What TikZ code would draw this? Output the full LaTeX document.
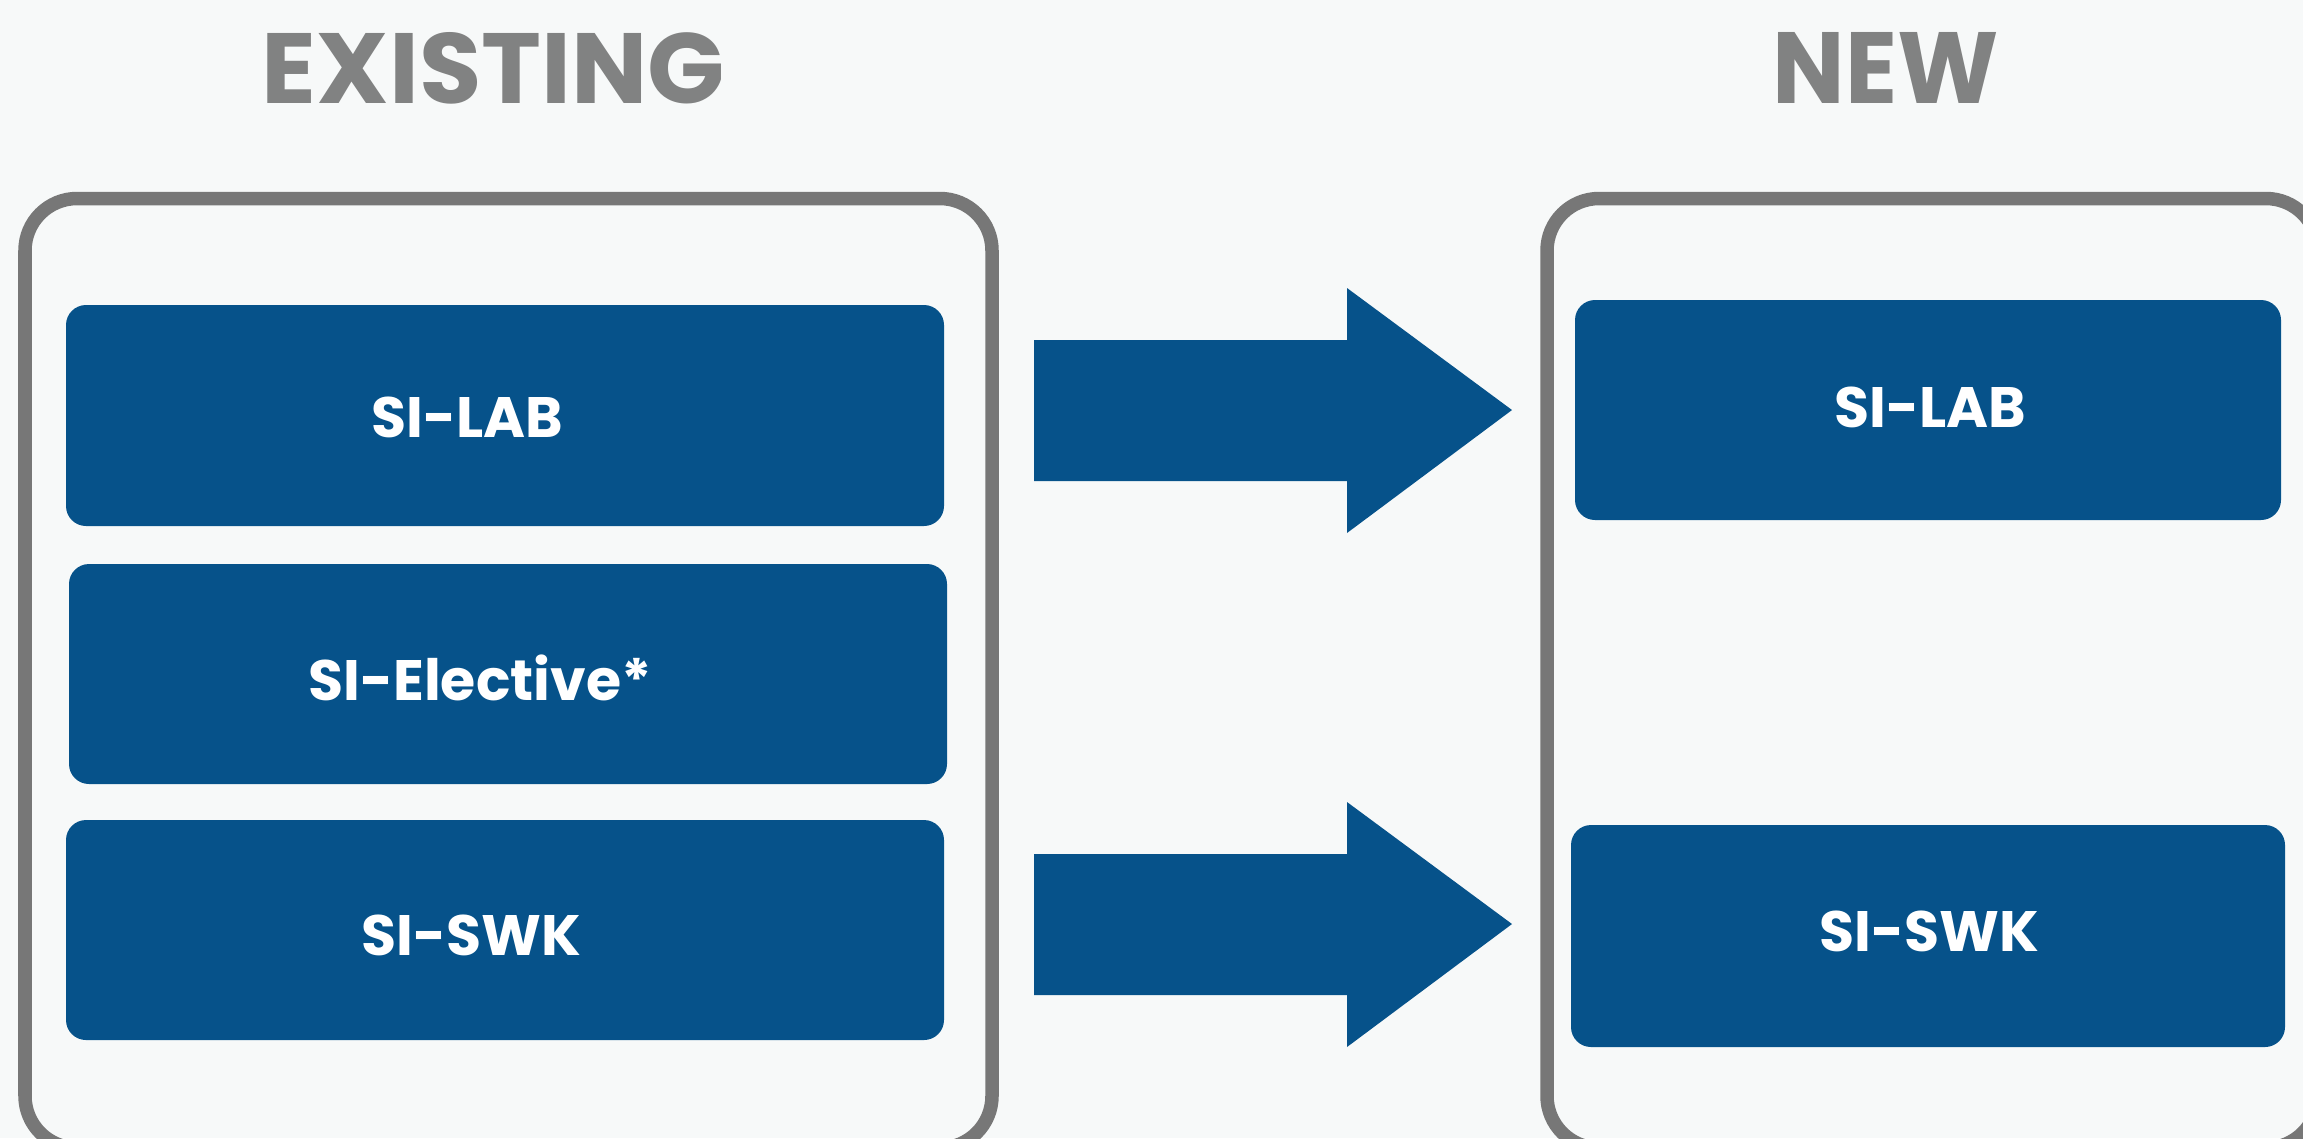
\documentclass[tikz,border=0pt]{standalone}
\usepackage{fontspec}
\setmainfont{Poppins}
\usepackage{graphicx}
\definecolor{bg}{HTML}{F7F9F9}
\definecolor{siblue}{HTML}{06528A}
\definecolor{frame}{HTML}{777777}
\definecolor{ttl}{HTML}{818282}
\tikzset{
  outerbox/.style={draw=frame, line width=0.135cm, rounded corners=0.52cm},
  bluebox/.style={fill=siblue, rounded corners=0.2cm},
  lbl/.style={text=white, inner sep=0pt, anchor=base, font=\fontsize{16.2}{19}\selectfont\bfseries},
  ttlnode/.style={text=ttl, inner sep=0pt, anchor=base west, font=\bfseries},
  bigarrow/.style={fill=siblue}
}
\begin{document}
\begin{tikzpicture}[x=0.01cm,y=-0.01cm]
\useasboundingbox (0,0) rectangle (2303,1138);
\clip (0,0) rectangle (2303,1138);
\fill[bg] (0,0) rectangle (2303,1138);
% titles
\node[ttlnode] (texist) at (261,103) {\resizebox{4.63cm}{0.71cm}{EXISTING}};
\node[ttlnode] (tnew) at (1772,103) {\resizebox{2.26cm}{0.71cm}{NEW}};
% outer frames
\draw[outerbox] (25,198.5) rectangle (992,1148);
\draw[outerbox] (1547,198.5) rectangle (2318,1148);
% blue boxes left
\path[bluebox] (66,305) rectangle (944,526);
\path[bluebox] (69,564) rectangle (947,784);
\path[bluebox] (66,820) rectangle (944,1040);
% blue boxes right
\path[bluebox] (1575,300) rectangle (2281,520);
\path[bluebox] (1571,825) rectangle (2285,1047);
% labels
\node[lbl] (llab) at (467,437) {SI-LAB};
\node[lbl] (lele) at (480,700) {SI-Elective*};
\node[lbl] (lswk) at (471,955) {SI-SWK};
\node[lbl] (rlab) at (1930,427) {SI-LAB};
\node[lbl] (rswk) at (1929,951) {SI-SWK};
% arrows
\fill[bigarrow] (1034,340) -- (1347,340) -- (1347,288) -- (1512,410) -- (1347,533) -- (1347,481) -- (1034,481) -- cycle;
\fill[bigarrow] (1034,854) -- (1347,854) -- (1347,802) -- (1512,924) -- (1347,1047) -- (1347,995) -- (1034,995) -- cycle;
\end{tikzpicture}
\end{document}
